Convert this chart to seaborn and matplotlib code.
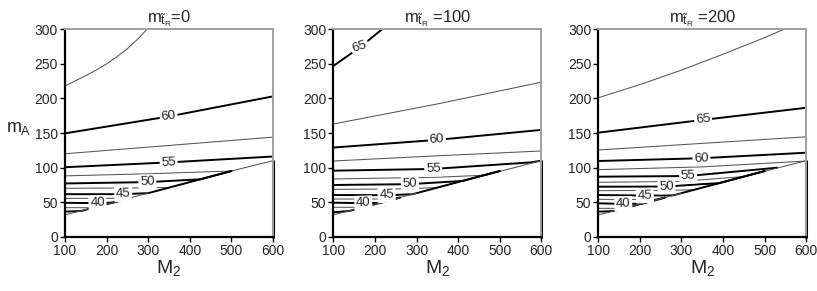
import matplotlib
matplotlib.use("Agg")
import matplotlib.pyplot as plt
import seaborn as sns

# --- data (M_2 on x, m_A on y) ---
titles = [r"$m_{\tilde{t}_R}$=0", r"$m_{\tilde{t}_R}$ =100", r"$m_{\tilde{t}_R}$ =200"]
x_ticks = [100, 200, 300, 400, 500, 600]
y_ticks = [0, 50, 100, 150, 200, 250, 300]

# level: (M2 points, mA points)
lines_p1 = {
    62.5: ([100, 125, 150, 175, 200, 225, 250, 275, 297],
           [218, 225.5, 233, 241, 250, 260.5, 272, 286, 300]),
    60.0: ([100, 350, 600], [149.5, 174, 203]),
    57.5: ([100, 350, 600], [120, 132, 144]),
    55.0: ([100, 350, 600], [100.5, 107.5, 116]),
    52.5: ([100, 300, 500, 600], [88, 91, 95, 110]),
    50.0: ([100, 300, 425, 500], [77, 79, 83, 95]),
    47.5: ([100, 250, 350, 500], [70, 70.5, 71, 95]),
    45.0: ([100, 240, 300, 500], [61.5, 61.5, 63, 95]),
    42.5: ([100, 200, 255, 300], [55.5, 55.5, 55.8, 63]),
    40.0: ([100, 180, 215, 260], [49, 48.5, 49.4, 56.6]),
    37.5: ([100, 160, 169, 260], [42, 42, 42, 56.6]),
    35.0: ([100, 125, 140, 260], [36.3, 36.8, 37.4, 56.6]),
    32.5: ([100, 260], [31.5, 56.6]),
}
lines_p2 = {
    65.0: ([100, 164, 217], [247, 274, 300]),
    62.5: ([100, 350, 600], [163, 192, 223.5]),
    60.0: ([100, 349, 600], [129, 140, 154.5]),
    57.5: ([100, 350, 600], [109.5, 117, 124]),
    55.0: ([100, 340, 575, 600], [95.5, 98, 107.5, 110]),
    52.5: ([100, 350, 465, 600], [83.5, 86, 89, 110]),
    50.0: ([100, 284, 352, 410, 500], [74.8, 76, 78.5, 80.6, 95]),
    47.5: ([100, 250, 350, 500], [68.5, 69, 71, 95]),
    45.0: ([100, 228, 290, 500], [60.3, 60, 61.4, 95]),
    42.5: ([100, 200, 250, 300], [54.5, 54.5, 55, 63]),
    40.0: ([100, 172, 212, 260], [49.2, 48.5, 48.9, 56.6]),
    37.5: ([100, 160, 172, 260], [42.5, 42.5, 42.5, 56.6]),
    35.0: ([100, 125, 140, 260], [35.3, 36.5, 37.4, 56.6]),
    32.5: ([100, 260], [31.5, 56.6]),
}
lines_p3 = {
    67.5: ([100, 200, 300, 400, 500, 546], [201, 220, 241, 264, 288, 300]),
    65.0: ([100, 352, 600], [150.5, 169, 186.5]),
    62.5: ([100, 350, 600], [125.4, 135, 144.5]),
    60.0: ([100, 348, 600], [109.5, 113.5, 121.5]),
    57.5: ([100, 350, 600], [97, 101, 109.5]),
    55.0: ([100, 316, 530], [86.8, 87.8, 99.8]),
    52.5: ([100, 300, 450, 600], [78.7, 80, 87, 110]),
    50.0: ([100, 264, 344, 390, 500], [72.3, 72.5, 75.8, 77.4, 95]),
    47.5: ([100, 250, 330, 500], [66.6, 67, 67.8, 95]),
    45.0: ([100, 212, 280, 500], [60.3, 59.5, 59.8, 95]),
    42.5: ([100, 200, 245, 300], [54, 54, 54.2, 63]),
    40.0: ([100, 160, 205, 260], [48.3, 47.5, 47.8, 56.6]),
    37.5: ([100, 155, 163, 260], [41, 41, 41.1, 56.6]),
    35.0: ([100, 125, 140, 260], [36.2, 36.8, 37.4, 56.6]),
    32.5: ([100, 260], [31.4, 56.6]),
}

# inline labels: (level, M2, mA, rotation)
labels_p1 = [(60, 349, 174, 6), (55, 349, 107.5, 3), (50, 298, 79, 2), (45, 240, 61.5, 2), (40, 178, 48.5, 2)]
labels_p2 = [(65, 164, 274, 18), (60, 349, 140, 4), (55, 340, 98, 2), (50, 284, 76, 2), (45, 228, 60, 2), (40, 172, 48.5, 2)]
labels_p3 = [(65, 352, 169, 5), (60, 348, 113.5, 3), (55, 316, 87.8, 2), (50, 264, 72.5, 2), (45, 212, 59.5, 2), (40, 160, 47.5, 2)]

# excluded corner edge at M2 = 600
edge_x = [600, 600]
edge_y = [0, 110]

sns.set_style("ticks")
plt.rcParams["font.family"] = ["Liberation Sans", "DejaVu Sans"]
plt.rcParams["mathtext.fontset"] = "custom"
plt.rcParams["mathtext.rm"] = "Liberation Sans"
plt.rcParams["mathtext.it"] = "Liberation Sans"
plt.rcParams["mathtext.bf"] = "Liberation Sans:bold"

fig = plt.figure(figsize=(8.17, 2.91), dpi=100)
lefts = [0.0796, 0.408, 0.7323]
panels = [(lines_p1, labels_p1), (lines_p2, labels_p2), (lines_p3, labels_p3)]

for i, (lines, labels) in enumerate(panels):
    ax = fig.add_axes([lefts[i], 0.1866, 0.2546, 0.7127])
    for level, (xs, ys) in lines.items():
        major = level % 5 == 0
        sns.lineplot(x=xs, y=ys, ax=ax, sort=False, estimator=None,
                     color="black" if major else "#555555",
                     linewidth=1.4 if major else 0.75)
    sns.lineplot(x=edge_x, y=edge_y, ax=ax, sort=False, estimator=None,
                 color="black", linewidth=2.2, clip_on=False)
    for level, lx, ly, rot in labels:
        ax.text(lx, ly, f"{level}", ha="center", va="center", fontsize=9.5,
                rotation=rot, zorder=5,
                bbox=dict(boxstyle="square,pad=0.12", fc="white", ec="none"))

    ax.set_xlim(100, 600)
    ax.set_ylim(0, 300)
    ax.set_xticks(x_ticks)
    ax.set_yticks(y_ticks)
    ax.tick_params(labelsize=10, length=3.5, width=1, pad=1.5, color="black")
    for side in ["left", "bottom"]:
        ax.spines[side].set_linewidth(1.6)
        ax.spines[side].set_color("black")
    for side in ["top", "right"]:
        ax.spines[side].set_visible(True)
        ax.spines[side].set_linewidth(1.4)
        ax.spines[side].set_color("#a0a0a0")
    ax.set_title(titles[i], fontsize=12, pad=2)
    ax.set_xlabel(r"$M_2$", fontsize=14, labelpad=0)
    if i == 0:
        ax.set_ylabel(r"$m_A$", fontsize=13, rotation=0, ha="center", va="center")
        ax.yaxis.set_label_coords(-0.225, 0.52)
    else:
        ax.set_ylabel("")

fig.savefig("out.png", dpi=100)
